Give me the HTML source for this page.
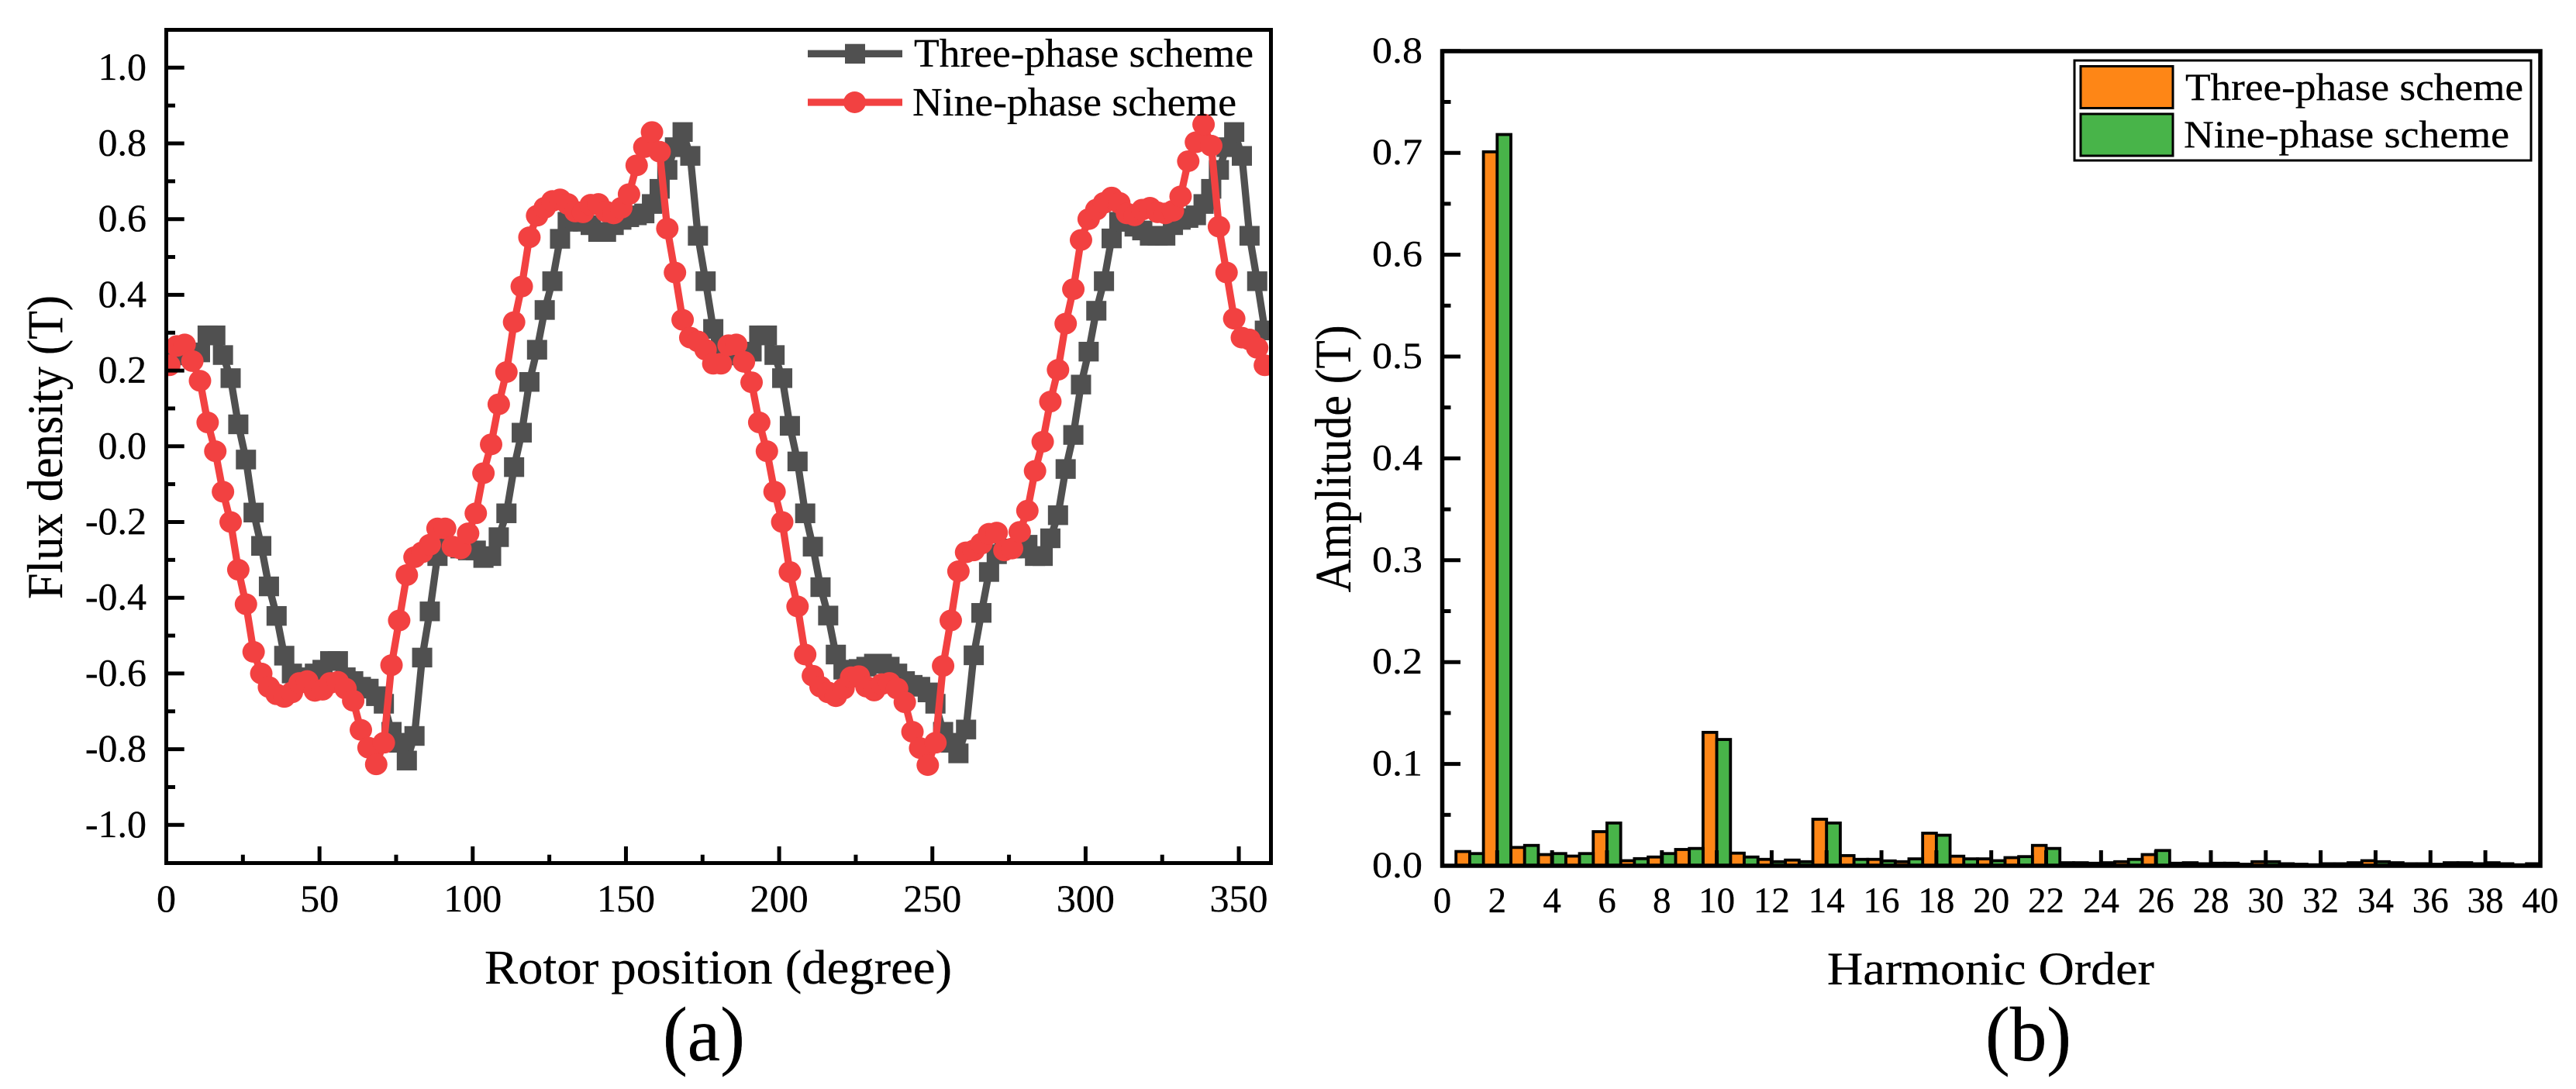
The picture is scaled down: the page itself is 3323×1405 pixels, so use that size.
<!DOCTYPE html>
<html lang="en">
<head>
<meta charset="utf-8">
<title>Flux density and harmonic amplitude</title>
<style>
html,body{margin:0;padding:0;background:#fff;}
svg{display:block;}
text{font-family:"Liberation Serif",serif;fill:#000;stroke:#000;stroke-width:.3px;}
</style>
</head>
<body>
<svg id="figure" xmlns="http://www.w3.org/2000/svg" width="3323" height="1405" viewBox="0 0 3323 1405">
  <defs>
    <clipPath id="clip-a"><rect x="214.5" y="38.5" width="1425" height="1075"/></clipPath>
    <clipPath id="clip-b"><rect x="1860.5" y="66" width="1416.5" height="1051"/></clipPath>
  </defs>
  <rect x="0" y="0" width="3323" height="1405" fill="#fff"/>

  <g id="panel-a">
    <g id="a-lines" clip-path="url(#clip-a)"></g>
    <g id="a-axes"></g>
    <rect x="214.5" y="38.5" width="1425" height="1075" fill="none" stroke="#000" stroke-width="5"/>
    <text transform="translate(80,577) rotate(-90)" text-anchor="middle" font-size="65" textLength="392" lengthAdjust="spacingAndGlyphs">Flux density (T)</text>
    <text x="625" y="1269" font-size="62" textLength="603" lengthAdjust="spacingAndGlyphs">Rotor position (degree)</text>
    <text x="855" y="1368" font-size="100" textLength="106" lengthAdjust="spacingAndGlyphs">(a)</text>
    <g>
      <line x1="1042" y1="69.3" x2="1164" y2="69.3" stroke="#505050" stroke-width="9.3"/>
      <rect x="1090" y="56.7" width="26" height="25.4" fill="#505050"/>
      <text x="1179" y="86" font-size="52" textLength="438" lengthAdjust="spacingAndGlyphs">Three-phase scheme</text>
      <line x1="1042" y1="132" x2="1164" y2="132" stroke="#F24141" stroke-width="9.3"/>
      <ellipse cx="1102.5" cy="132" rx="14.5" ry="14" fill="#F24141"/>
      <text x="1177" y="149" font-size="52" textLength="418" lengthAdjust="spacingAndGlyphs">Nine-phase scheme</text>
    </g>
  </g>

  <g id="panel-b">
    <g id="b-bars" clip-path="url(#clip-b)"></g>
    <g id="b-axes"></g>
    <rect x="1860.5" y="66" width="1416.5" height="1051" fill="none" stroke="#000" stroke-width="5.5"/>
    <text transform="translate(1742,592) rotate(-90)" text-anchor="middle" font-size="66" textLength="345" lengthAdjust="spacingAndGlyphs">Amplitude (T)</text>
    <text x="2357" y="1270" font-size="60" textLength="422" lengthAdjust="spacingAndGlyphs">Harmonic Order</text>
    <text x="2561" y="1368" font-size="100" textLength="111" lengthAdjust="spacingAndGlyphs">(b)</text>
    <g>
      <rect x="2676" y="78" width="589" height="129" fill="#fff" stroke="#000" stroke-width="3"/>
      <rect x="2684" y="85.5" width="119" height="54" fill="#FE8616" stroke="#000" stroke-width="3"/>
      <text x="2819" y="129" font-size="50" textLength="436" lengthAdjust="spacingAndGlyphs">Three-phase scheme</text>
      <rect x="2684" y="147" width="119" height="54" fill="#48B449" stroke="#000" stroke-width="3"/>
      <text x="2817" y="190" font-size="50" textLength="420" lengthAdjust="spacingAndGlyphs">Nine-phase scheme</text>
    </g>
  </g>
</svg>

<script>
// ---- Panel (a) data ----
const rotorPositions = [
1,3.5,6,8.5,11,13.5,16,18.5,21,23.5,26,28.5,31,33.5,36,38.5,41,43.5,46,48.5,
51,53.5,56,58.5,61,63.5,66,68.5,71,73.5,76,78.5,81,83.5,86,88.5,91,93.5,96,98.5,
101,103.5,106,108.5,111,113.5,116,118.5,121,123.5,126,128.5,131,133.5,136,138.5,141,143.5,146,148.5,
151,153.5,156,158.5,161,163.5,166,168.5,171,173.5,176,178.5,181,183.5,186,188.5,191,193.5,196,198.5,
201,203.5,206,208.5,211,213.5,216,218.5,221,223.5,226,228.5,231,233.5,236,238.5,241,243.5,246,248.5,
251,253.5,256,258.5,261,263.5,266,268.5,271,273.5,276,278.5,281,283.5,286,288.5,291,293.5,296,298.5,
301,303.5,306,308.5,311,313.5,316,318.5,321,323.5,326,328.5,331,333.5,336,338.5,341,343.5,346,348.5,
351,353.5,356,358.5];
const threePhaseFlux = [
.255,.25,.24,.24,.248,.293,.293,.241,.18,.058,
-.035,-.175,-.263,-.37,-.448,-.553,-.6,-.615,-.61,-.6,
-.59,-.567,-.567,-.61,-.62,-.635,-.64,-.66,-.68,-.754,
-.783,-.83,-.765,-.558,-.436,-.29,-.265,-.265,-.27,-.275,
-.275,-.295,-.29,-.24,-.177,-.055,.036,.17,.255,.36,
.436,.548,.593,.603,.593,.584,.566,.566,.584,.598,
.605,.61,.615,.64,.68,.73,.79,.83,.767,.556,
.436,.31,
.26,.25,.24,.24,.25,.293,.293,.241,.18,.054,
-.04,-.177,-.265,-.372,-.447,-.55,-.59,-.6,-.588,-.582,
-.574,-.574,-.582,-.6,-.62,-.63,-.635,-.65,-.68,-.754,
-.783,-.811,-.748,-.552,-.44,-.332,-.285,-.27,-.27,-.27,
-.26,-.29,-.29,-.243,-.182,-.06,.03,.163,.25,.358,
.436,.549,.593,.593,.58,.57,.556,.556,.556,.584,
.598,.603,.61,.64,.68,.73,.79,.83,.767,.556,
.436,.306];
const ninePhaseFlux = [
.214,.265,.269,.225,.173,.063,-.013,-.12,-.2,-.326,
-.417,-.543,-.6,-.636,-.655,-.662,-.65,-.625,-.62,-.646,
-.643,-.625,-.622,-.64,-.672,-.749,-.796,-.84,-.783,-.578,
-.46,-.34,-.293,-.28,-.26,-.217,-.217,-.265,-.27,-.23,
-.177,-.071,.005,.111,.196,.328,.422,.552,.609,.63,
.648,.652,.64,.62,.618,.638,.64,.62,.615,.63,
.666,.742,.79,.83,.778,.575,.459,.334,.287,.277,
.255,.218,
.218,.267,.269,.223,.169,.063,-.013,-.12,-.2,-.332,
-.423,-.55,-.606,-.635,-.65,-.66,-.64,-.61,-.607,-.635,
-.645,-.628,-.625,-.64,-.676,-.754,-.797,-.842,-.783,-.58,
-.46,-.33,-.28,-.275,-.257,-.231,-.228,-.275,-.27,-.226,
-.17,-.065,.012,.118,.202,.324,.415,.545,.6,.625,
.643,.657,.643,.615,.61,.625,.63,.618,.615,.622,
.66,.753,.803,.85,.794,.58,.459,.337,.287,.282,
.26,.214];
const fluxXMajorTicks = [0,50,100,150,200,250,300,350];
const fluxXMinorTicks = [25,75,125,175,225,275,325];
const fluxYMajorTicks = ["-1.0","-0.8","-0.6","-0.4","-0.2","0.0","0.2","0.4","0.6","0.8","1.0"];
const fluxYMinorTicks = [-0.9,-0.7,-0.5,-0.3,-0.1,0.1,0.3,0.5,0.7,0.9];

// ---- Panel (b) data ----
const harmonicOrders = [1,2,3,4,5,6,7,8,9,10,11,12,13,14,15,16,17,18,19,20,21,22,23,24,25,26,27,28,29,30,31,32,33,34,35,36,37,38,39,40];
const threePhaseAmplitude = [.014,.701,.018,.011,.0095,.0335,.005,.0086,.016,.131,.0124,.0063,.0056,.0457,.01,.0063,.004,.032,.0094,.0068,.008,.02,.003,.0025,.004,.011,.0025,.002,.0025,.004,.002,.001,.002,.005,.003,.002,.003,.002,.002,.002];
const ninePhaseAmplitude = [.012,.718,.02,.012,.012,.042,.007,.012,.017,.124,.0086,.004,.004,.042,.0063,.0048,.0068,.03,.0068,.005,.009,.017,.003,.003,.0063,.015,.003,.0025,.0015,.004,.0015,.002,.003,.004,.002,.0015,.003,.003,.001,.002];
const harmonicXTicks = [0,2,4,6,8,10,12,14,16,18,20,22,24,26,28,30,32,34,36,38,40];
const harmonicYMajorTicks = ["0.0","0.1","0.2","0.3","0.4","0.5","0.6","0.7","0.8"];
const harmonicYMinorTicks = [0.05,0.15,0.25,0.35,0.45,0.55,0.65,0.75];

// ---- Axis functions ----
const fluxX = d => 214.5 + d * 3.953;
const fluxY = v => 575.8 - v * 488.5;
const harmX = h => 1860.5 + h * 35.41;
const harmY = v => 1117 - v * 1314;

const NS = 'http://www.w3.org/2000/svg';
function make(tag, attrs) {
  const el = document.createElementNS(NS, tag);
  for (const k in attrs) el.setAttribute(k, attrs[k]);
  return el;
}
function tick(parent, name, x1, y1, x2, y2) {
  const el = make('line', {x1, y1, x2, y2, stroke: '#000', 'stroke-width': 5});
  
  
  parent.appendChild(el);
}
function label(parent, name, str, x, y, size, anchor, width) {
  const el = make('text', {x, y, 'font-size': size, 'text-anchor': anchor});
  if (width) { el.setAttribute('textLength', width); el.setAttribute('lengthAdjust', 'spacingAndGlyphs'); }
  el.textContent = str;
  
  
  parent.appendChild(el);
}

// ---- Draw panel (a) ----
const aLines = document.getElementById('a-lines');
const aAxes = document.getElementById('a-axes');

function drawSeries(values, color, seriesName, marker) {
  const g = make('g', {});
  
  
  const pts = rotorPositions.map((d, i) => fluxX(d).toFixed(1) + ',' + fluxY(values[i]).toFixed(1)).join(' ');
  const line = make('polyline', {points: pts, fill: 'none', stroke: color, 'stroke-width': 9.3, 'stroke-linejoin': 'round'});
  
  
  g.appendChild(line);
  rotorPositions.forEach((d, i) => {
    const cx = fluxX(d), cy = fluxY(values[i]);
    let m;
    if (marker === 'square') {
      m = make('rect', {x: cx - 13, y: cy - 12.7, width: 26, height: 25.4, fill: color});
    } else {
      m = make('ellipse', {cx, cy, rx: 14.5, ry: 14, fill: color});
    }
    
    
    g.appendChild(m);
  });
  aLines.appendChild(g);
}
drawSeries(threePhaseFlux, '#505050', 'three-phase-series', 'square');
drawSeries(ninePhaseFlux, '#F24141', 'nine-phase-series', 'circle');

fluxXMajorTicks.forEach(d => {
  tick(aAxes, 'flux-x-major-tick', fluxX(d), 1113, fluxX(d), 1092);
  label(aAxes, 'flux-x-tick-label', String(d), fluxX(d), 1176, 50, 'middle');
});
fluxXMinorTicks.forEach(d => tick(aAxes, 'flux-x-minor-tick', fluxX(d), 1113, fluxX(d), 1102.7));
fluxYMajorTicks.forEach(s => {
  const v = parseFloat(s);
  tick(aAxes, 'flux-y-major-tick', 214, fluxY(v), 237.7, fluxY(v));
  label(aAxes, 'flux-y-tick-label', s, 189, fluxY(v) + 15.5, 50, 'end');
});
fluxYMinorTicks.forEach(v => tick(aAxes, 'flux-y-minor-tick', 214, fluxY(v), 226, fluxY(v)));

// ---- Draw panel (b) ----
const bBars = document.getElementById('b-bars');
const bAxes = document.getElementById('b-axes');
const barUnit = 0.5;
function drawBars(values, color, seriesName, offset) {
  harmonicOrders.forEach((h, i) => {
    const x0 = harmX(h + offset), x1 = harmX(h + offset + barUnit);
    const y0 = harmY(values[i]), y1 = harmY(0);
    const r = make('rect', {x: x0, y: y0, width: x1 - x0, height: y1 - y0, fill: color, stroke: '#000', 'stroke-width': 3.8});
    
    
    bBars.appendChild(r);
  });
}
drawBars(threePhaseAmplitude, '#FE8616', 'three-phase', -barUnit);
drawBars(ninePhaseAmplitude, '#48B449', 'nine-phase', 0);

harmonicXTicks.forEach(h => {
  tick(bAxes, 'harmonic-x-tick', harmX(h), 1117, harmX(h), 1097);
  label(bAxes, 'harmonic-x-tick-label', String(h), harmX(h), 1177, 47, 'middle');
});
harmonicYMajorTicks.forEach(s => {
  const v = parseFloat(s);
  tick(bAxes, 'harmonic-y-major-tick', 1860, harmY(v), 1884, harmY(v));
  label(bAxes, 'harmonic-y-tick-label', s, 1835, harmY(v) + 15, 48, 'end', 65);
});
harmonicYMinorTicks.forEach(v => tick(bAxes, 'harmonic-y-minor-tick', 1860, harmY(v), 1871.5, harmY(v)));
</script>
</body>
</html>
